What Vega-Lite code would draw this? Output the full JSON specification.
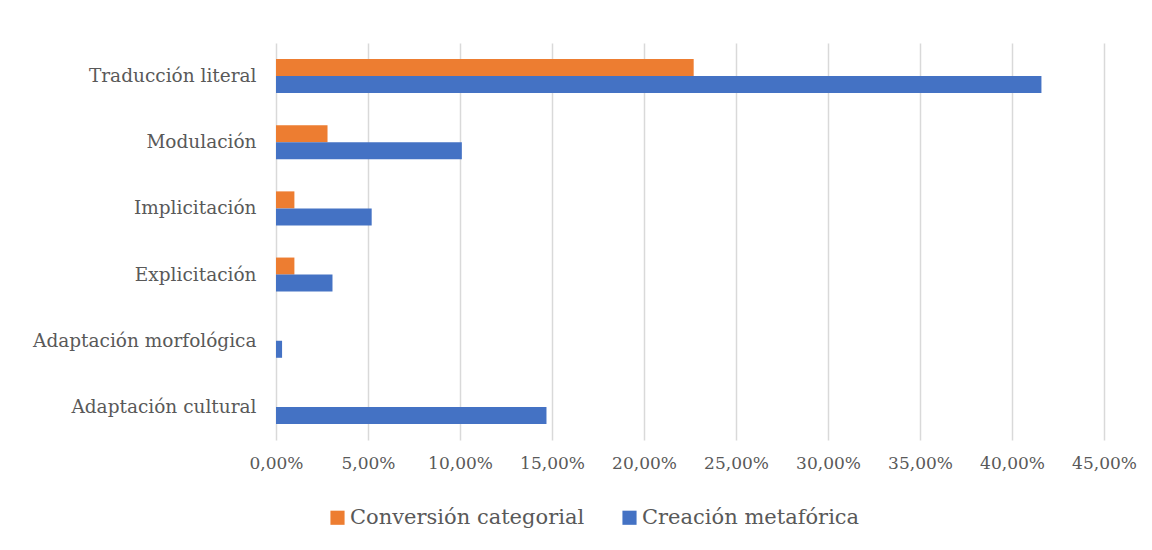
{
  "$schema": "https://vega.github.io/schema/vega-lite/v6.json",
  "autosize": {"type": "none"},
  "width": 828,
  "height": 397,
  "padding": {"left": 276, "top": 43, "right": 48, "bottom": 110},
  "background": "white",
  "data": {
    "values": [
      {"tecnica": "Traducción literal", "serie": "Conversión categorial", "valor": 22.70},
      {"tecnica": "Traducción literal", "serie": "Creación metafórica", "valor": 41.60},
      {"tecnica": "Modulación", "serie": "Conversión categorial", "valor": 2.80},
      {"tecnica": "Modulación", "serie": "Creación metafórica", "valor": 10.10},
      {"tecnica": "Implicitación", "serie": "Conversión categorial", "valor": 1.00},
      {"tecnica": "Implicitación", "serie": "Creación metafórica", "valor": 5.20},
      {"tecnica": "Explicitación", "serie": "Conversión categorial", "valor": 1.00},
      {"tecnica": "Explicitación", "serie": "Creación metafórica", "valor": 3.07},
      {"tecnica": "Adaptación morfológica", "serie": "Conversión categorial", "valor": 0},
      {"tecnica": "Adaptación morfológica", "serie": "Creación metafórica", "valor": 0.33},
      {"tecnica": "Adaptación cultural", "serie": "Conversión categorial", "valor": 0},
      {"tecnica": "Adaptación cultural", "serie": "Creación metafórica", "valor": 14.70}
    ]
  },
  "mark": {"type": "bar"},
  "encoding": {
    "y": {
      "field": "tecnica",
      "type": "nominal",
      "sort": ["Traducción literal", "Modulación", "Implicitación", "Explicitación", "Adaptación morfológica", "Adaptación cultural"],
      "scale": {"paddingInner": 0.485, "paddingOuter": 0.2425},
      "axis": {
        "title": null,
        "domain": false,
        "ticks": false,
        "grid": false,
        "labelPadding": 20,
        "labelFont": "DejaVu Serif",
        "labelFontSize": 18.5,
        "labelColor": "#595959",
        "labelLimit": 300
      }
    },
    "yOffset": {
      "field": "serie",
      "type": "nominal",
      "sort": ["Conversión categorial", "Creación metafórica"],
      "scale": {"paddingInner": 0, "paddingOuter": 0}
    },
    "x": {
      "field": "valor",
      "type": "quantitative",
      "scale": {"domain": [0, 45], "nice": false},
      "axis": {
        "title": null,
        "values": [0, 5, 10, 15, 20, 25, 30, 35, 40, 45],
        "labelExpr": "replace(format(datum.value, '.2f'), '.', ',') + '%'",
        "domain": false,
        "ticks": false,
        "grid": true,
        "gridColor": "#d9d9d9",
        "gridWidth": 1.5,
        "labelPadding": 15,
        "labelFont": "DejaVu Serif",
        "labelFontSize": 17,
        "labelColor": "#595959",
        "labelFlush": false
      }
    },
    "color": {
      "field": "serie",
      "type": "nominal",
      "sort": ["Conversión categorial", "Creación metafórica"],
      "scale": {"domain": ["Conversión categorial", "Creación metafórica"], "range": ["#ED7D31", "#4472C4"]},
      "legend": {
        "title": null,
        "orient": "none",
        "direction": "horizontal",
        "legendX": 51,
        "legendY": 464,
        "padding": 0,
        "symbolType": "square",
        "symbolSize": 200,
        "symbolStrokeWidth": 0,
        "labelFont": "DejaVu Serif",
        "labelFontSize": 21,
        "labelColor": "#595959",
        "labelOffset": 2,
        "columnPadding": 34,
        "labelLimit": 400
      }
    }
  },
  "config": {
    "view": {"stroke": null}
  }
}
